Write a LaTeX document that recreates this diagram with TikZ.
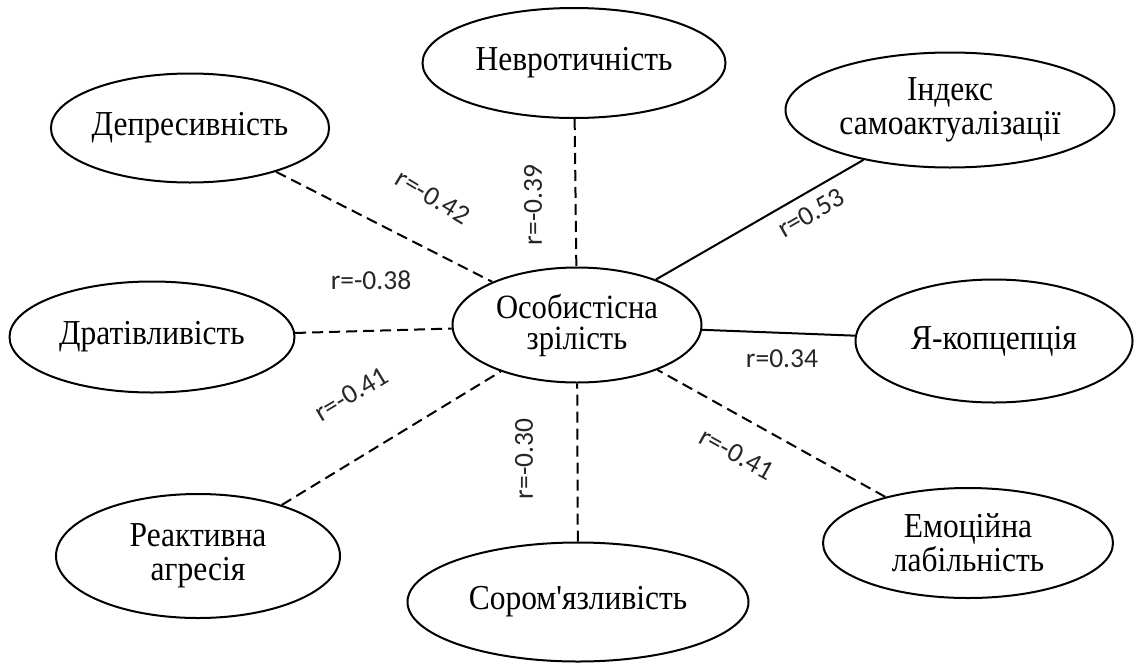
\documentclass[tikz,border=0pt]{standalone}
\usepackage{fontspec}
\setmainfont{Liberation Serif}[Ligatures=TeXOff]
\newfontfamily\lblfont{Carlito}
\usetikzlibrary{shapes.geometric}
\newcommand\sqz[1]{\scalebox{0.9}[1]{#1}}
\tikzset{
  item/.style={ellipse, draw=black, line width=2pt, inner sep=0pt, align=center,
    font=\fontsize{35}{34}\selectfont},
  neglink/.style={draw=black, line width=2pt, dash pattern=on 11pt off 6pt},
  poslink/.style={draw=black, line width=2pt},
  rlab/.style={font=\lblfont\fontsize{27.5}{30}\selectfont, text=black!85, inner sep=0pt}
}
\begin{document}
\begin{tikzpicture}[x=1pt,y=-1pt]
\useasboundingbox (0,0) rectangle (1134,664);
\node[item, minimum width=249pt, minimum height=115pt, font=\fontsize{34}{31}\selectfont] (C) at (577,325) {\sqz{Особистісна}\\\sqz{зрілість}};
\node[item, minimum width=303pt, minimum height=110pt] (N) at (574,63) {\sqz{Невротичність}};
\node[item, minimum width=271pt, minimum height=109pt] (D) at (190,128) {\sqz{Депресивність}};
\node[item, minimum width=329pt, minimum height=115pt] (I) at (950,110) {\sqz{Індекс}\\\sqz{самоактуалізації}};
\node[item, minimum width=285pt, minimum height=111pt] (R) at (152,337) {\sqz{Дратівливість}};
\node[item, minimum width=277pt, minimum height=123pt] (Y) at (994,341) {\sqz{Я-копцепція}};
\node[item, minimum width=284pt, minimum height=124pt] (A) at (198,556) {\sqz{Реактивна}\\\sqz{агресія}};
\node[item, minimum width=341pt, minimum height=119pt] (S) at (578,602) {\sqz{Сором'язливість}};
\node[item, minimum width=290pt, minimum height=110pt] (E) at (968,543) {\sqz{Емоційна}\\\sqz{лабільність}};

\draw[neglink] (D) -- (C);
\draw[neglink] (N) -- (C);
\draw[poslink] (I) -- (C);
\draw[neglink] (R) -- (C);
\draw[poslink] (Y) -- (C);
\draw[neglink] (A) -- (C);
\draw[neglink] (S) -- (C);
\draw[neglink] (E) -- (C);

\node[rlab, rotate=-31] (l1) at (433,197) {r=-0.42};
\node[rlab, rotate=90] (l2) at (533,205) {r=-0.39};
\node[rlab, rotate=30] (l3) at (811,213) {r=0.53};
\node[rlab] (l4) at (371,280) {r=-0.38};
\node[rlab] (l5) at (782,359) {r=0.34};
\node[rlab, rotate=31] (l6) at (351,394) {r=-0.41};
\node[rlab, rotate=90] (l7) at (524,459) {r=-0.30};
\node[rlab, rotate=-29] (l8) at (737,454) {r=-0.41};
\end{tikzpicture}
\end{document}
